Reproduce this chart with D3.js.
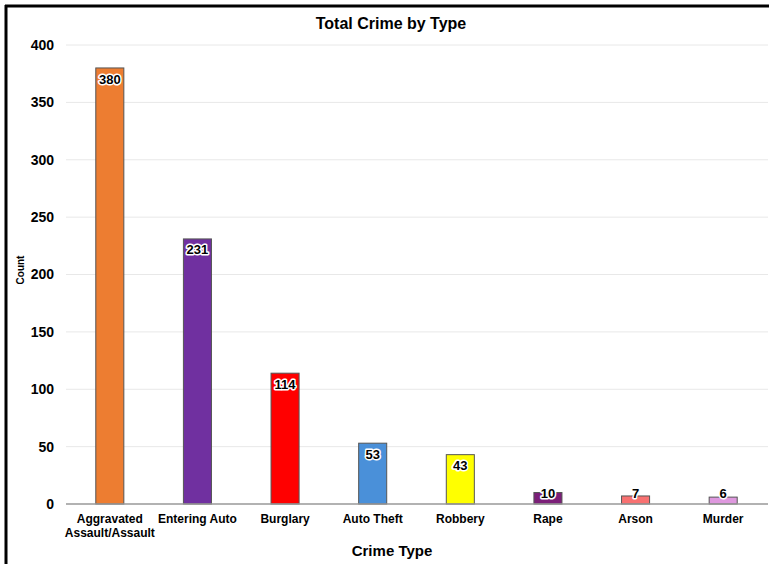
<!DOCTYPE html>
<html><head><meta charset="utf-8">
<script src="https://cdn.jsdelivr.net/npm/d3@7"></script>
<style>body{margin:0;background:#fff}svg{display:block}</style>
</head><body>
<svg id="c" width="769" height="564"></svg>
<script>
const categories = ["Aggravated Assault/Assault","Entering Auto","Burglary","Auto Theft","Robbery","Rape","Arson","Murder"];
const values = [380,231,114,53,43,10,7,6];
const colors = ["#ED7D31","#7030A0","#FF0000","#4A90D9","#FFFF00","#7B1F78","#F87171","#DE98DE"];
const yTicks = [0,50,100,150,200,250,300,350,400];
const title = "Total Crime by Type";
const xTitle = "Crime Type";
const yTitle = "Count";

const svg = d3.select("#c");
const W = 769, H = 564;
const m = {l:66, r:2, t:45, b:60};
const font = "'Liberation Sans', Arial, sans-serif";

// frame
svg.append("line").attr("x1",6).attr("x2",6).attr("y1",5).attr("y2",H).attr("stroke","#000").attr("stroke-width",3);
svg.append("line").attr("x1",5).attr("x2",W).attr("y1",6).attr("y2",6).attr("stroke","#000").attr("stroke-width",3);

const x = d3.scaleBand().domain(categories).range([m.l, W - m.r]).paddingInner(0.68).paddingOuter(0.34);
const y = d3.scaleLinear().domain([0,400]).range([504, 45]);

// grid
svg.append("g").selectAll("line").data(yTicks.filter(d=>d>0)).join("line")
  .attr("x1", m.l).attr("x2", W - 1).attr("y1", d=>y(d)).attr("y2", d=>y(d))
  .attr("stroke","#e8e8e8").attr("stroke-width",1);

// y axis
const ya = svg.append("g").attr("transform",`translate(${m.l},0)`)
  .call(d3.axisLeft(y).tickValues(yTicks).tickSize(0).tickPadding(12));
ya.select(".domain").remove();
ya.selectAll("text").attr("font-family",font).attr("font-weight","bold").attr("font-size",14).attr("fill","#000");

// bars
svg.append("g").selectAll("rect").data(values).join("rect")
  .attr("x",(d,i)=>x(categories[i])).attr("width",x.bandwidth())
  .attr("y",d=>y(d)).attr("height",d=>y(0)-y(d))
  .attr("fill",(d,i)=>colors[i]).attr("stroke","#555").attr("stroke-width",1);

// baseline
svg.append("line").attr("x1",m.l).attr("x2",W-1).attr("y1",y(0)).attr("y2",y(0)).attr("stroke","#999").attr("stroke-width",1.5);

// x axis labels
const xa = svg.append("g").attr("transform",`translate(0,${y(0)})`)
  .call(d3.axisBottom(x).tickSize(0).tickPadding(10));
xa.select(".domain").remove();
xa.selectAll("text").attr("font-family",font).attr("font-weight","bold").attr("font-size",12).attr("fill","#000")
  .each(function(d){
    const t = d3.select(this);
    if (d === "Aggravated Assault/Assault") {
      t.text(null);
      t.append("tspan").attr("x",0).attr("dy","0.71em").text("Aggravated");
      t.append("tspan").attr("x",0).attr("dy","1.2em").text("Assault/Assault");
      t.attr("dy",null);
    }
  });

// value labels
const lbl = svg.append("g").selectAll("text").data(values).join("text")
  .attr("x",(d,i)=>x(categories[i]) + x.bandwidth()/2)
  .attr("y",d=>Math.min(y(d)+11, 493))
  .attr("dy","0.35em").attr("text-anchor","middle")
  .attr("font-family",font).attr("font-weight","bold").attr("font-size",13)
  .attr("fill","#000").attr("stroke","#fff").attr("stroke-width",3).attr("paint-order","stroke")
  .attr("stroke-linejoin","round")
  .text(d=>d);

// titles
svg.append("text").attr("x",391).attr("y",29).attr("text-anchor","middle")
  .attr("font-family",font).attr("font-weight","bold").attr("font-size",16).text(title);
svg.append("text").attr("x",392).attr("y",556).attr("text-anchor","middle")
  .attr("font-family",font).attr("font-weight","bold").attr("font-size",15).text(xTitle);
svg.append("text").attr("transform","translate(24,270) rotate(-90)").attr("text-anchor","middle")
  .attr("font-family",font).attr("font-weight","bold").attr("font-size",10).text(yTitle);
</script>
</body></html>
